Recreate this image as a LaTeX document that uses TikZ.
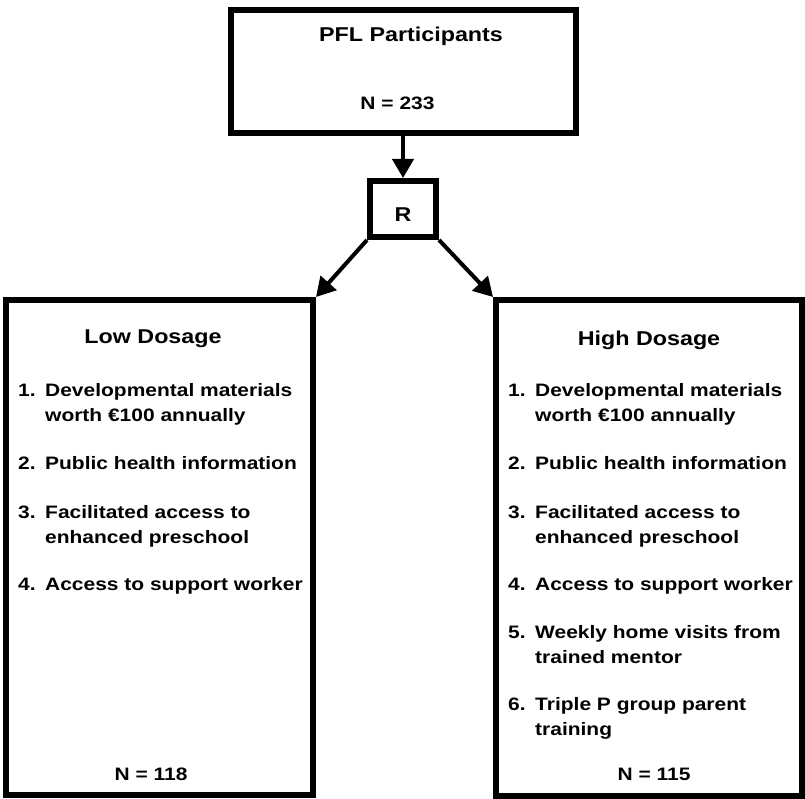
\documentclass[tikz,border=0pt]{standalone}
\usepackage{fontspec}
\setmainfont{Liberation Sans}[FakeStretch=1.165]
\usetikzlibrary{arrows.meta, positioning}

\newcommand{\lbl}[1]{\makebox[27pt][l]{#1}}
\newcommand{\ind}{\hspace*{27pt}}
\newcommand{\twolines}[2]{\begin{tabular}[t]{@{}l@{}}#1\\#2\end{tabular}}

\tikzset{
  frame/.style={draw, line width=6pt, inner sep=0pt},
  flow/.style={line width=4pt, -{Triangle[length=19pt, width=21pt]}},
  heading/.style={anchor=base, inner sep=0pt, font=\bfseries\fontsize{20}{24}\selectfont},
  count/.style={anchor=base, inner sep=0pt, font=\bfseries\fontsize{18}{22}\selectfont},
  entry/.style={anchor=base west, inner sep=0pt, font=\bfseries\fontsize{18}{25}\selectfont}
}

\begin{document}
\begin{tikzpicture}[x=1pt, y=-1pt]
          \useasboundingbox (0,0) rectangle (805,799);
          % boxes
          \node [frame, minimum width=345pt, minimum height=123pt] (pfl) at (403, 71.5) {};
          \node [frame, minimum width=66pt, minimum height=56pt] (rand) at (403, 209) {};
          \node [frame, minimum width=307pt, minimum height=495pt] (low) at (159.5, 547.5) {};
          \node [frame, minimum width=306pt, minimum height=496pt] (high) at (649, 548) {};
          % texts
          \node [heading] (pfltitle) at (411, 42) {PFL Participants};
          \node [count] (pfln) at (397.5, 110) {N = 233};
          \node [heading] (rlabel) at (403, 222) {R};
          \node [heading] (lowtitle) at (153, 343) {Low Dosage};
          \node [heading] (hightitle) at (649, 345) {High Dosage};
          \node [entry] (low1) at (18, 396) {\twolines{\lbl{1.}Developmental materials}{\ind worth €100 annually}};
          \node [entry] (low2) at (18, 469) {\lbl{2.}Public health information};
          \node [entry] (low3) at (18, 518) {\twolines{\lbl{3.}Facilitated access to}{\ind enhanced preschool}};
          \node [entry] (low4) at (18, 590) {\lbl{4.}Access to support worker};
          \node [entry] (high1) at (508, 396) {\twolines{\lbl{1.}Developmental materials}{\ind worth €100 annually}};
          \node [entry] (high2) at (508, 469) {\lbl{2.}Public health information};
          \node [entry] (high3) at (508, 518) {\twolines{\lbl{3.}Facilitated access to}{\ind enhanced preschool}};
          \node [entry] (high4) at (508, 590) {\lbl{4.}Access to support worker};
          \node [entry] (high5) at (508, 638) {\twolines{\lbl{5.}Weekly home visits from}{\ind trained mentor}};
          \node [entry] (high6) at (508, 710) {\twolines{\lbl{6.}Triple P group parent}{\ind training}};
          \node [count] (lown) at (151, 780) {N = 118};
          \node [count] (highn) at (654, 780) {N = 115};
          % arrows
          \draw [flow] (pfl.south) -- (rand.north);
          \draw [flow] (rand.south west) -- (low.north east);
          \draw [flow] (rand.south east) -- (high.north west);
        \end{tikzpicture}
\end{document}
